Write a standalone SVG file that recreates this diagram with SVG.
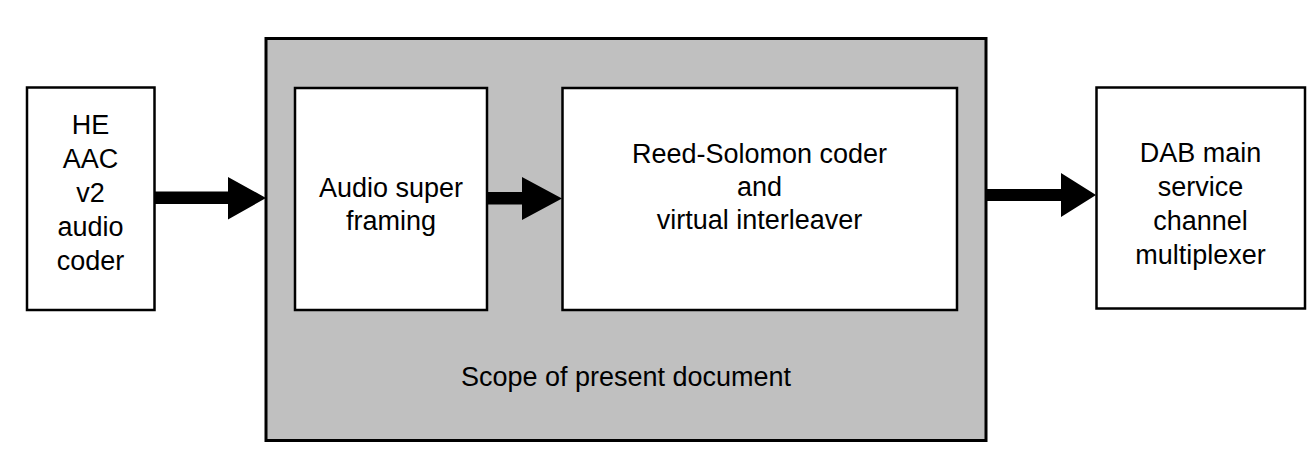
<svg xmlns="http://www.w3.org/2000/svg" width="1307" height="463" viewBox="0 0 1307 463">
  <style>
    .box { fill: #ffffff; stroke: #000000; stroke-width: 2.5; }
    .scope { fill: #c0c0c0; stroke: #000000; stroke-width: 3; }
    .lbl { font-family: "Liberation Sans", Arial, sans-serif; font-size: 27px; fill: #000000; text-anchor: middle; }
    .arrow { fill: #000000; stroke: none; }
  </style>
  <rect x="0" y="0" width="1307" height="463" fill="#ffffff"/>

  <!-- outer scope region -->
  <g id="scope">
    <rect class="scope" x="266" y="38.5" width="720" height="402"/>
    <text class="lbl" x="626" y="386">Scope of present document</text>
  </g>

  <g id="audio-coder">
    <rect class="box" x="27" y="87.5" width="127.5" height="222.5"/>
    <text class="lbl" x="90.5" y="134">HE</text>
    <text class="lbl" x="90.5" y="168">AAC</text>
    <text class="lbl" x="90.5" y="202">v2</text>
    <text class="lbl" x="90.5" y="236">audio</text>
    <text class="lbl" x="90.5" y="270">coder</text>
  </g>

  <g id="super-framing">
    <rect class="box" x="295" y="88" width="192" height="222"/>
    <text class="lbl" x="391" y="197">Audio super</text>
    <text class="lbl" x="391" y="230">framing</text>
  </g>

  <g id="rs-coder">
    <rect class="box" x="562.5" y="88" width="394.5" height="222"/>
    <text class="lbl" x="759.5" y="163">Reed-Solomon coder</text>
    <text class="lbl" x="759.5" y="196">and</text>
    <text class="lbl" x="759.5" y="229">virtual interleaver</text>
  </g>

  <g id="multiplexer">
    <rect class="box" x="1096.5" y="87.5" width="208.5" height="221"/>
    <text class="lbl" x="1200.5" y="162">DAB main</text>
    <text class="lbl" x="1200.5" y="196">service</text>
    <text class="lbl" x="1200.5" y="230">channel</text>
    <text class="lbl" x="1200.5" y="264">multiplexer</text>
  </g>

  <!-- block arrows between stages -->
  <g id="connectors">
    <path class="arrow" d="M155,191.5 H228 V177 L266,198 L228,219.5 V204 H155 Z"/>
    <path class="arrow" d="M488,192 H522 V177 L562,198.5 L522,220 V204.5 H488 Z"/>
    <path class="arrow" d="M987,189 H1061 V173 L1096,195 L1061,217 V201 H987 Z"/>
  </g>
</svg>
